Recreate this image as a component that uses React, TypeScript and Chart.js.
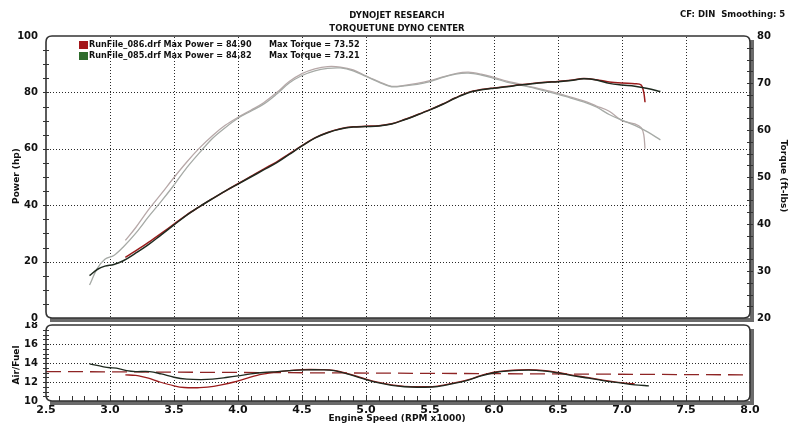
import React, { useEffect, useRef } from "react";
import { Chart, registerables } from "chart.js";
Chart.register(...registerables);

// ---------- data ----------
const xTicks = [2.5, 3.0, 3.5, 4.0, 4.5, 5.0, 5.5, 6.0, 6.5, 7.0, 7.5, 8.0];
const hpTicks = [0, 20, 40, 60, 80, 100];
const torqueTicks = [20, 30, 40, 50, 60, 70, 80];
const afrTicks = [10, 12, 14, 16, 18];

const rpm085 = [2.84, 2.9, 2.96, 3.03, 3.1, 3.2, 3.3, 3.4, 3.5, 3.6, 3.7, 3.8, 3.9, 4.0, 4.1, 4.2, 4.3, 4.4, 4.5, 4.6, 4.7, 4.8, 4.9, 5.0, 5.1, 5.2, 5.3, 5.4, 5.5, 5.6, 5.7, 5.8, 5.9, 6.0, 6.1, 6.2, 6.3, 6.4, 6.5, 6.6, 6.7, 6.8, 6.9, 7.0, 7.1, 7.2, 7.3];
const power085 = [15.0, 17.2, 18.4, 19.0, 20.2, 23.0, 26.0, 29.5, 33.0, 36.5, 39.5, 42.3, 45.0, 47.5, 50.0, 52.5, 55.0, 58.0, 61.0, 63.8, 65.7, 67.0, 67.7, 67.9, 68.1, 68.8, 70.3, 72.0, 73.8, 75.8, 78.0, 79.9, 80.9, 81.5, 82.0, 82.6, 83.1, 83.5, 83.8, 84.2, 84.8, 84.4, 83.2, 82.6, 82.2, 81.4, 80.3];
const torque085 = [27.0, 30.5, 32.5, 33.3, 35.0, 38.0, 41.5, 44.8, 48.3, 52.0, 55.2, 58.2, 60.5, 62.5, 64.0, 65.5, 67.6, 70.0, 71.6, 72.6, 73.1, 73.2, 72.6, 71.4, 70.2, 69.2, 69.4, 69.7, 70.3, 71.2, 71.9, 72.1, 71.7, 71.0, 70.2, 69.6, 69.0, 68.3, 67.6, 66.8, 66.0, 64.9, 63.3, 62.1, 61.0, 59.6, 57.9];

const rpm086 = [3.12, 3.2, 3.3, 3.4, 3.5, 3.6, 3.7, 3.8, 3.9, 4.0, 4.1, 4.2, 4.3, 4.4, 4.5, 4.6, 4.7, 4.8, 4.9, 5.0, 5.1, 5.2, 5.3, 5.4, 5.5, 5.6, 5.7, 5.8, 5.9, 6.0, 6.1, 6.2, 6.3, 6.4, 6.5, 6.6, 6.7, 6.8, 6.9, 7.0, 7.1, 7.15, 7.17, 7.18];
const power086 = [21.5, 23.8, 26.8, 30.0, 33.3, 36.6, 39.5, 42.3, 45.0, 47.6, 50.2, 52.8, 55.3, 58.2, 61.1, 63.9, 65.8, 67.1, 67.8, 68.0, 68.2, 68.9, 70.4, 72.1, 73.9, 75.9, 78.1, 80.0, 81.0, 81.6, 82.1, 82.7, 83.2, 83.6, 83.9, 84.3, 84.9, 84.5, 83.7, 83.3, 83.1, 82.6, 80.0, 76.5];
const torque086 = [36.5, 39.2, 43.0, 46.4, 49.9, 53.2, 56.2, 58.8, 61.0, 62.7, 64.2, 65.8, 67.9, 70.3, 72.0, 73.0, 73.5, 73.4, 72.8, 71.5, 70.3, 69.3, 69.5, 69.9, 70.5, 71.3, 72.0, 72.3, 71.9, 71.2, 70.4, 69.8, 69.1, 68.5, 67.8, 67.0, 66.2, 65.1, 64.0, 62.0, 61.3, 60.5, 59.0, 56.0];

const afrRpm085 = [2.84, 2.95, 3.0, 3.05, 3.13, 3.2, 3.31, 3.4, 3.5, 3.6, 3.71, 3.8, 3.92, 4.0, 4.1, 4.2, 4.31, 4.4, 4.54, 4.65, 4.75, 4.88, 5.0, 5.1, 5.2, 5.3, 5.4, 5.54, 5.65, 5.8, 5.9, 6.01, 6.1, 6.27, 6.4, 6.5, 6.6, 6.74, 6.85, 6.97, 7.1, 7.21];
const afr085 = [13.9, 13.6, 13.5, 13.45, 13.2, 13.1, 13.1, 12.85, 12.5, 12.3, 12.25, 12.3, 12.5, 12.65, 12.85, 13.0, 13.1, 13.2, 13.28, 13.28, 13.2, 12.75, 12.25, 11.9, 11.65, 11.5, 11.45, 11.5, 11.75, 12.2, 12.65, 13.0, 13.15, 13.25, 13.15, 12.95, 12.7, 12.4, 12.15, 11.93, 11.7, 11.6];
const afrRpm086 = [3.12, 3.2, 3.24, 3.3, 3.39, 3.5, 3.58, 3.7, 3.76, 3.87, 3.97, 4.06, 4.15, 4.25, 4.36, 4.5, 4.65, 4.75, 4.88, 5.0, 5.1, 5.2, 5.3, 5.4, 5.54, 5.65, 5.8, 5.9, 6.0, 6.1, 6.27, 6.4, 6.5, 6.6, 6.74, 6.85, 6.97, 7.05, 7.1];
const afr086 = [12.75, 12.7, 12.6, 12.4, 12.0, 11.6, 11.42, 11.4, 11.45, 11.7, 12.0, 12.35, 12.7, 12.95, 13.15, 13.3, 13.3, 13.22, 12.8, 12.3, 11.95, 11.7, 11.55, 11.5, 11.55, 11.8, 12.25, 12.7, 13.05, 13.2, 13.3, 13.2, 13.0, 12.75, 12.45, 12.2, 11.95, 11.85, 11.8];
const targetRpm = [2.5, 8.0];
const targetAfr = [13.1, 12.75];

const legendRows = [
  { file: "RunFile_086.drf", power: "84.90", torque: "73.52", color: "#a3171b" },
  { file: "RunFile_085.drf", power: "84.82", torque: "73.21", color: "#2e6b2c" },
];

// ---------- helpers ----------
const pts = (xs: number[], ys: number[]) => xs.map((x, i) => ({ x, y: ys[i] }));
const FONT = "'DejaVu Sans', Verdana, sans-serif";
const tickFont = { family: FONT, weight: "bold" as const, size: 10 };
const L = 46, R = 750;

function frame(ctx: CanvasRenderingContext2D, top: number, bottom: number) {
  ctx.save();
  ctx.fillStyle = "#6b6b6b";
  ctx.fillRect(L + 4, bottom, R - L, 4);
  ctx.fillRect(R, top + 4, 4, bottom - top);
  ctx.strokeStyle = "#333";
  ctx.lineWidth = 1.6;
  const r = 6;
  ctx.beginPath();
  ctx.moveTo(L + r, top);
  ctx.lineTo(R - r, top);
  ctx.quadraticCurveTo(R, top, R, top + r);
  ctx.lineTo(R, bottom - r);
  ctx.quadraticCurveTo(R, bottom, R - r, bottom);
  ctx.lineTo(L + r, bottom);
  ctx.quadraticCurveTo(L, bottom, L, bottom - r);
  ctx.lineTo(L, top + r);
  ctx.quadraticCurveTo(L, top, L + r, top);
  ctx.stroke();
  ctx.restore();
}

function dottedGrid(ctx: CanvasRenderingContext2D, xs: any, ys: any, xVals: number[], yVals: number[]) {
  const top = ys.top, bottom = ys.bottom;
  ctx.save();
  ctx.fillStyle = "#2a2a2a";
  xVals.forEach((v) => {
    const px = Math.round(xs.getPixelForValue(v));
    for (let y = top + 1; y < bottom; y += 3) ctx.fillRect(px, y, 1, 1);
  });
  yVals.forEach((v) => {
    const py = Math.round(ys.getPixelForValue(v));
    for (let x = L + 1; x < R; x += 3) ctx.fillRect(x, py, 1, 1);
  });
  ctx.restore();
}

function rotText(ctx: CanvasRenderingContext2D, t: string, x: number, y: number, ang: number, font: string) {
  ctx.save();
  ctx.translate(x, y);
  ctx.rotate(ang);
  ctx.font = font;
  ctx.fillStyle = "#111";
  ctx.textAlign = "center";
  ctx.textBaseline = "middle";
  ctx.fillText(t, 0, 0);
  ctx.restore();
}

const innerX = xTicks.slice(1, -1);

const topDecor = {
  id: "topDecor",
  beforeDatasetsDraw(chart: any) {
    dottedGrid(chart.ctx, chart.scales.x, chart.scales.yP, innerX, hpTicks.slice(1, -1));
  },
  afterDraw(chart: any) {
    const ctx: CanvasRenderingContext2D = chart.ctx;
    const yP = chart.scales.yP, yT = chart.scales.yT;
    frame(ctx, yP.top, yP.bottom);
    ctx.save();
    ctx.strokeStyle = "#333";
    ctx.lineWidth = 1;
    for (let v = 5; v < 100; v += 5) {
      const y = Math.round(yP.getPixelForValue(v)) + 0.5;
      ctx.beginPath(); ctx.moveTo(L - 3, y); ctx.lineTo(L + 3, y); ctx.stroke();
    }
    for (let v = 22.5; v < 80; v += 2.5) {
      const y = Math.round(yT.getPixelForValue(v)) + 0.5;
      ctx.beginPath(); ctx.moveTo(R - 3, y); ctx.lineTo(R + 3, y); ctx.stroke();
    }
    ctx.fillStyle = "#111";
    ctx.textBaseline = "middle";
    ctx.textAlign = "center";
    ctx.font = `bold 8.5px ${FONT}`;
    ctx.fillText("DYNOJET RESEARCH", 397, 16);
    ctx.fillText("TORQUETUNE DYNO CENTER", 397, 29);
    ctx.textAlign = "left";
    ctx.font = `bold 8.5px ${FONT}`;
    ctx.fillText("CF: DIN  Smoothing: 5", 680, 15);
    legendRows.forEach((row, i) => {
      const y = 45 + i * 11;
      ctx.fillStyle = row.color;
      ctx.fillRect(79, y - 4, 9, 8);
      ctx.fillStyle = "#111";
      ctx.font = `bold 9px 'DejaVu Sans Condensed', ${FONT}`;
      ctx.fillText(`${row.file} Max Power = ${row.power}`, 89, y);
      ctx.fillText(`Max Torque = ${row.torque}`, 269, y);
    });
    ctx.restore();
    rotText(ctx, "Power (hp)", 17, 176, -Math.PI / 2, `bold 9px ${FONT}`);
    rotText(ctx, "Torque (ft-lbs)", 783, 176, Math.PI / 2, `bold 9px ${FONT}`);
  },
};

const bottomDecor = {
  id: "bottomDecor",
  beforeDatasetsDraw(chart: any) {
    dottedGrid(chart.ctx, chart.scales.x, chart.scales.yA, innerX, afrTicks.slice(1, -1));
  },
  afterDraw(chart: any) {
    const ctx: CanvasRenderingContext2D = chart.ctx;
    const x = chart.scales.x, y = chart.scales.yA;
    frame(ctx, y.top, y.bottom);
    ctx.save();
    ctx.strokeStyle = "#333";
    ctx.lineWidth = 1;
    for (let v = 2.6; v < 7.95; v += 0.1) {
      const px = Math.round(x.getPixelForValue(v)) + 0.5;
      ctx.beginPath(); ctx.moveTo(px, y.bottom - 5); ctx.lineTo(px, y.bottom); ctx.stroke();
    }
    for (let v = 10.5; v < 18; v += 0.5) {
      const py = Math.round(y.getPixelForValue(v)) + 0.5;
      ctx.beginPath(); ctx.moveTo(L - 3, py); ctx.lineTo(L + 3, py); ctx.stroke();
    }
    ctx.fillStyle = "#111";
    ctx.textAlign = "center";
    ctx.textBaseline = "middle";
    ctx.font = `bold 9px ${FONT}`;
    ctx.fillText("Engine Speed (RPM x1000)", 397, 97);
    ctx.restore();
    rotText(ctx, "Air/Fuel", 17, 43, -Math.PI / 2, `bold 9px ${FONT}`);
  },
};

const lineDs = (label: string, data: any[], color: string, width: number, axis: string, order: number) => ({
  label, data, borderColor: color, backgroundColor: color, borderWidth: width,
  pointRadius: 0, tension: 0.35, fill: false, yAxisID: axis, order,
});

const fixY = (w: number) => (s: any) => { s.width = w; s.paddingTop = 0; s.paddingBottom = 0; };

export default function App() {
  const topRef = useRef<HTMLCanvasElement>(null);
  const botRef = useRef<HTMLCanvasElement>(null);

  useEffect(() => {
    const noGrid = { display: false, drawTicks: false };
    const top = new Chart(topRef.current!, {
      type: "line",
      data: {
        datasets: [
          lineDs("Torque 086", pts(rpm086, torque086), "#b7a8a8", 1.3, "yT", 3),
          lineDs("Torque 085", pts(rpm085, torque085), "#a6aaa6", 1.3, "yT", 2),
          lineDs("Power 086", pts(rpm086, power086), "#9b1c1c", 1.5, "yP", 1),
          lineDs("Power 085", pts(rpm085, power085), "#1f2a1f", 1.5, "yP", 0),
        ],
      },
      plugins: [topDecor],
      options: {
        responsive: false, animation: false, devicePixelRatio: 1,
        layout: { padding: { top: 36, bottom: 4, left: 0, right: 0 } },
        plugins: { legend: { display: false }, tooltip: { enabled: false } },
        scales: {
          x: {
            type: "linear", min: 2.5, max: 8, display: false,
          },
          yP: {
            position: "left", min: 0, max: 100,
            afterBuildTicks: (s: any) => { s.ticks = hpTicks.map((v) => ({ value: v })); },
            afterFit: fixY(L),
            ticks: { font: tickFont, color: "#111", padding: 8 },
            grid: noGrid, border: { display: false },
          },
          yT: {
            position: "right", min: 20, max: 80,
            afterBuildTicks: (s: any) => { s.ticks = torqueTicks.map((v) => ({ value: v })); },
            afterFit: fixY(800 - R),
            ticks: { font: tickFont, color: "#111", padding: 7 },
            grid: noGrid, border: { display: false },
          },
        },
      },
    } as any);

    const bot = new Chart(botRef.current!, {
      type: "line",
      data: {
        datasets: [
          { ...lineDs("Target AFR", pts(targetRpm, targetAfr), "#8e2424", 1.3, "yA", 3), borderDash: [15, 7], tension: 0 },
          lineDs("AFR 086", pts(afrRpm086, afr086), "#9b1c1c", 1.3, "yA", 2),
          lineDs("AFR 085", pts(afrRpm085, afr085), "#1f2a1f", 1.3, "yA", 1),
        ],
      },
      plugins: [bottomDecor],
      options: {
        responsive: false, animation: false, devicePixelRatio: 1,
        layout: { padding: { top: 3, bottom: 0, left: 0, right: 800 - R } },
        plugins: { legend: { display: false }, tooltip: { enabled: false } },
        scales: {
          x: {
            type: "linear", min: 2.5, max: 8,
            afterBuildTicks: (s: any) => { s.ticks = xTicks.map((v) => ({ value: v })); },
            afterFit: (s: any) => { s.height = 25; s.paddingLeft = 0; s.paddingRight = 0; },
            ticks: { font: { ...tickFont, size: 11 }, color: "#111", padding: 3, maxRotation: 0, autoSkip: false, callback: (v: any) => Number(v).toFixed(1) },
            grid: noGrid, border: { display: false },
          },
          yA: {
            position: "left", min: 10, max: 18,
            afterBuildTicks: (s: any) => { s.ticks = afrTicks.map((v) => ({ value: v })); },
            afterFit: fixY(L),
            ticks: { font: tickFont, color: "#111", padding: 8 },
            grid: noGrid, border: { display: false },
          },
        },
      },
    } as any);

    return () => { top.destroy(); bot.destroy(); };
  }, []);

  return (
    <div style={{ position: "fixed", left: 0, top: 0, width: 800, height: 426, background: "#fff" }}>
      <canvas ref={topRef} width={800} height={322} style={{ position: "absolute", left: 0, top: 0, width: 800, height: 322 }} />
      <canvas ref={botRef} width={800} height={104} style={{ position: "absolute", left: 0, top: 322, width: 800, height: 104 }} />
    </div>
  );
}
